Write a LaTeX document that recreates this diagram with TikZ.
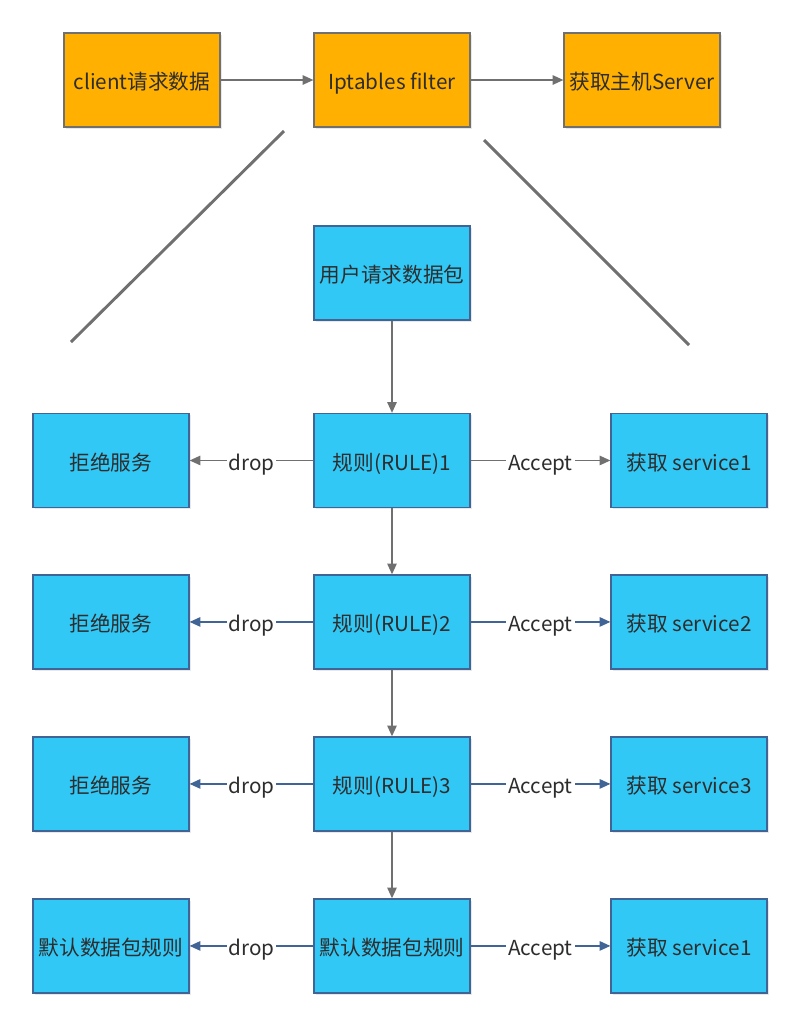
\documentclass[tikz,border=0pt]{standalone}
\usepackage{fontspec}
\setmainfont{Noto Sans CJK SC}
\usetikzlibrary{positioning,arrows.meta,shadows}

\definecolor{boxorange}{RGB}{255,176,0}
\definecolor{boxblue}{RGB}{50,200,246}
\definecolor{edgeblue}{RGB}{65,100,150}
\definecolor{linegray}{RGB}{112,112,112}
\definecolor{txtgray}{RGB}{45,45,45}

\tikzset{
  boxbase/.style={rectangle, minimum width=117pt, minimum height=70.5pt,
    inner sep=2pt, text=txtgray, font=\fontsize{15.5}{18}\selectfont,
    text height=15.2pt, text depth=0.8pt,
    drop shadow={shadow xshift=1.2pt, shadow yshift=-1.2pt, opacity=0.18}},
  hostbox/.style={boxbase, fill=boxorange, draw=linegray, line width=0.9pt},
  rulebox/.style={boxbase, fill=boxblue, draw=edgeblue, line width=0.9pt},
  flow/.style={->, draw=linegray, line width=1.1pt},
  flowb/.style={->, draw=edgeblue, line width=1.1pt},
  tag/.style={fill=white, inner sep=1.5pt, text=txtgray, font=\fontsize{15.5}{18}\selectfont,
    text height=15.2pt, text depth=0.8pt}
}

\begin{document}
\begin{tikzpicture}[x=0.75pt,y=-0.75pt,>={Triangle[length=8pt,width=7pt]},node distance=2cm,on grid]
			\useasboundingbox (0,0) rectangle (804,1029);
			% top row
			\node[hostbox] (client) at (142,80) {client请求数据};
			\node[hostbox] (filter) [right=187.5pt of client] {Iptables filter};
			\node[hostbox] (server) [right=187.5pt of filter] {获取主机Server};
			\draw[flow] (client) -- (filter);
			\draw[flow] (filter) -- (server);
			% zoom lines
			\coordinate (zl1) at (284,131);
			\coordinate (zl2) at (71,342);
			\coordinate (zr1) at (484,140);
			\coordinate (zr2) at (689,345);
			\draw[linegray, line width=2.2pt] (zl1) -- (zl2);
			\draw[linegray, line width=2.2pt] (zr1) -- (zr2);
			% chain
			\node[rulebox] (pkt) at (392,273) {用户请求数据包};
			\node[rulebox] (r1) [below=140.6pt of pkt] {规则(RULE)1};
			\node[rulebox] (r2) [below=121.1pt of r1] {规则(RULE)2};
			\node[rulebox] (r3) [below=121.5pt of r2] {规则(RULE)3};
			\node[rulebox] (r4) [below=121.5pt of r3] {默认数据包规则};
			\node[rulebox] (d1) [left=210.75pt of r1] {拒绝服务};
			\node[rulebox] (d2) [left=210.75pt of r2] {拒绝服务};
			\node[rulebox] (d3) [left=210.75pt of r3] {拒绝服务};
			\node[rulebox] (d4) [left=210.75pt of r4] {默认数据包规则};
			\node[rulebox] (a1) [right=222.75pt of r1] {获取 service1};
			\node[rulebox] (a2) [right=222.75pt of r2] {获取 service2};
			\node[rulebox] (a3) [right=222.75pt of r3] {获取 service3};
			\node[rulebox] (a4) [right=222.75pt of r4] {获取 service1};
			\draw[flow] (pkt) -- (r1);
			\draw[flow] (r1) -- (r2);
			\draw[flow] (r2) -- (r3);
			\draw[flow] (r3) -- (r4);
			\draw[flow] (r1) -- node[tag] {drop} (d1);
			\draw[flow] (r1) -- node[tag] {Accept} (a1);
			\foreach \i in {2,3,4} {
				\draw[flowb] (r\i) -- node[tag] {drop} (d\i);
				\draw[flowb] (r\i) -- node[tag] {Accept} (a\i);
			}
		\end{tikzpicture}
\end{document}
